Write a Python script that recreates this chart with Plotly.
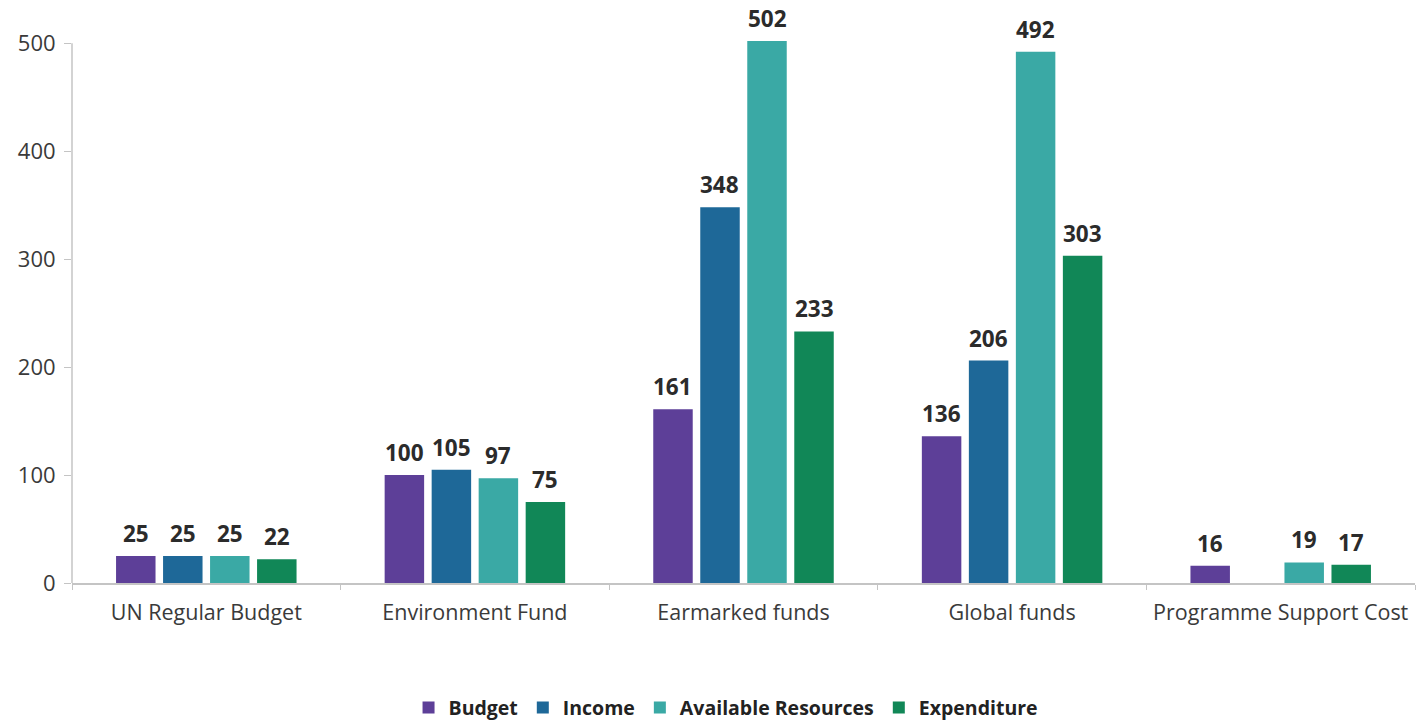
import plotly.graph_objects as go

categories = ["UN Regular Budget", "Environment Fund", "Earmarked funds",
              "Global funds", "Programme Support Cost"]
budget = [25, 100, 161, 136, 16]
income = [25, 105, 348, 206, None]
available_resources = [25, 97, 502, 492, 19]
expenditure = [22, 75, 233, 303, 17]
y_ticks = [0, 100, 200, 300, 400, 500]

series = [
    ("Budget", budget, "#5D3F98"),
    ("Income", income, "#1E6898"),
    ("Available Resources", available_resources, "#3AA9A5"),
    ("Expenditure", expenditure, "#118757"),
]

WIDTH, HEIGHT = 1417, 723
MARGIN = dict(l=72, r=2, t=0, b=140)
BARGAP = 0.3
axis_grey = "#c4c4c4"
label_font = dict(family="Open Sans", size=22.5, color="#2b2b2b", weight="bold")
tick_font = dict(family="Open Sans", size=21.5, color="#3a3a3a", weight=500)

fig = go.Figure()
for name, values, color in series:
    fig.add_trace(go.Bar(
        name=name,
        x=categories,
        y=values,
        marker=dict(color=color, line=dict(width=0)),
    ))

# value labels placed above each bar within its group slot
plot_w = WIDTH - MARGIN["l"] - MARGIN["r"]
slot = plot_w / len(categories) * (1 - BARGAP) / len(series)
for i, (name, values, color) in enumerate(series):
    shift = (i - (len(series) - 1) / 2) * slot
    for cat, v in zip(categories, values):
        if v is None:
            continue
        fig.add_annotation(
            x=cat, y=v, text=str(v), showarrow=False,
            xanchor="center", yanchor="bottom", xshift=shift, yshift=5,
            font=label_font,
        )

# value axis line only spans the tick range
fig.add_shape(type="line", xref="paper", yref="y",
              x0=0, x1=0, y0=0, y1=max(y_ticks),
              line=dict(color=axis_grey, width=1.5))

fig.update_layout(
    width=WIDTH,
    height=HEIGHT,
    margin=MARGIN,
    paper_bgcolor="white",
    plot_bgcolor="white",
    barmode="group",
    bargap=BARGAP,
    bargroupgap=0.16,
    font=dict(family="Open Sans", color="#3a3a3a"),
    legend=dict(
        orientation="h",
        xref="paper", x=0.487, xanchor="center",
        yref="container", y=0.021, yanchor="middle",
        font=dict(family="Open Sans", size=19.5, color="#222", weight="bold"),
        traceorder="normal",
    ),
    xaxis=dict(
        automargin=False,
        showline=True, linecolor=axis_grey, linewidth=1.5,
        ticks="outside", tickson="boundaries", ticklen=5, tickcolor=axis_grey,
        tickfont=tick_font,
        ticklabelstandoff=9,
        showgrid=False,
    ),
    yaxis=dict(
        automargin=False,
        range=[0, 540],
        tickvals=y_ticks,
        showline=False,
        ticks="outside", ticklen=7, tickcolor=axis_grey,
        tickfont=dict(family="Open Sans", size=22, color="#3a3a3a", weight=500),
        ticklabelstandoff=4,
        showgrid=False, zeroline=False,
    ),
)

fig.write_html("out.html")
